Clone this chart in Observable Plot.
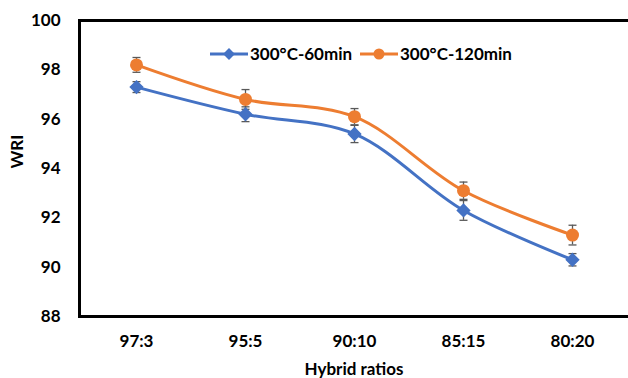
<!DOCTYPE html>
<html><head><meta charset="utf-8">
<script src="https://cdn.jsdelivr.net/npm/d3@7"></script>
<script src="https://cdn.jsdelivr.net/npm/@observablehq/plot@0.6"></script>
<style>
body{margin:0;background:#fff;}
#wrap{position:relative;width:628px;height:378px;overflow:hidden;}
#legend{position:absolute;left:0;top:0;}
</style>
</head><body><div id="wrap"></div>
<script>
const ratios = ["97:3","95:5","90:10","85:15","80:20"];
const series = ["300°C-60min","300°C-120min"];
const wri60 = [97.3, 96.2, 95.4, 92.3, 90.3];
const err60 = [0.22, 0.3, 0.35, 0.4, 0.25];
const wri120 = [98.2, 96.8, 96.1, 93.1, 91.3];
const err120 = [0.3, 0.4, 0.33, 0.35, 0.4];
const yTicks = [88, 90, 92, 94, 96, 98, 100];
const colors = ["#4472C4", "#ED7D31"];

const data = [];
ratios.forEach((r, i) => {
  data.push({ratio: r, s: series[0], v: wri60[i], e: err60[i]});
  data.push({ratio: r, s: series[1], v: wri120[i], e: err120[i]});
});
const d60 = data.filter(d => d.s === series[0]);
const d120 = data.filter(d => d.s === series[1]);
const cap = {draw(ctx){ ctx.moveTo(-4, 0); ctx.lineTo(4, 0); }};
const font = "Lato, 'Open Sans', sans-serif";
const fs = 17;

const chart = Plot.plot({
  width: 628, height: 378,
  marginLeft: 79, marginRight: 0, marginTop: 20, marginBottom: 62,
  style: {fontFamily: font, fontSize: fs + "px", fontWeight: "bold", color: "#000", background: "#fff", overflow: "hidden"},
  x: {type: "point", domain: ratios, padding: 0.5, label: null},
  y: {domain: [88, 100], label: null},
  marks: [
    Plot.axisY({ticks: yTicks, tickSize: 0, tickPadding: 19, fontWeight: "bold", fontSize: fs, label: null}),
    Plot.axisX({tickSize: 0, tickPadding: 18, fontWeight: "bold", fontSize: fs, label: null}),
    Plot.frame({anchor: "left", stroke: "#000", strokeWidth: 3}),
    Plot.ruleY([88, 100], {stroke: "#000", strokeWidth: 3}),
    Plot.line(data, {x: "ratio", y: "v", z: "s", stroke: "s", strokeWidth: 3, curve: "catmull-rom"}),
    Plot.ruleX(data, {x: "ratio", y1: d => d.v - d.e, y2: d => d.v + d.e, stroke: "#595959", strokeWidth: 1.3}),
    Plot.dot(data, {x: "ratio", y: d => d.v - d.e, symbol: cap, fill: "none", stroke: "#595959", strokeWidth: 1.3}),
    Plot.dot(data, {x: "ratio", y: d => d.v + d.e, symbol: cap, fill: "none", stroke: "#595959", strokeWidth: 1.3}),
    Plot.dot(d60, {x: "ratio", y: "v", symbol: "diamond2", r: 5.5, fill: colors[0], stroke: colors[0]}),
    Plot.dot(d120, {x: "ratio", y: "v", symbol: "circle", r: 6.5, fill: colors[1]}),
    Plot.text(["WRI"], {frameAnchor: "left", dx: -62, rotate: -90, fontSize: fs, fontWeight: "bold"}),
    Plot.text(["Hybrid ratios"], {frameAnchor: "bottom", dy: 58, fontSize: fs, fontWeight: "bold"})
  ],
  color: {domain: series, range: colors}
});
document.getElementById("wrap").appendChild(chart);

// legend overlay
const lg = d3.select("#wrap").append("svg").attr("id","legend").attr("width",628).attr("height",378)
  .style("font-family", font).style("font-weight","bold").style("font-size", fs + "px");
const items = [{x: 210, sym: "diamond"}, {x: 360, sym: "circle"}];
items.forEach((it, i) => {
  const g = lg.append("g").attr("transform", `translate(${it.x},54)`);
  g.append("line").attr("x1",0).attr("x2",38).attr("stroke",colors[i]).attr("stroke-width",3);
  if (it.sym === "circle") g.append("circle").attr("cx",19).attr("r",5.5).attr("fill",colors[i]);
  else g.append("path").attr("d", d3.symbol(d3.symbolDiamond2, 90)()).attr("transform","translate(19,0)").attr("fill",colors[i]);
  g.append("text").attr("x",40).attr("dy","0.35em").text(series[i]);
});
</script></body></html>
